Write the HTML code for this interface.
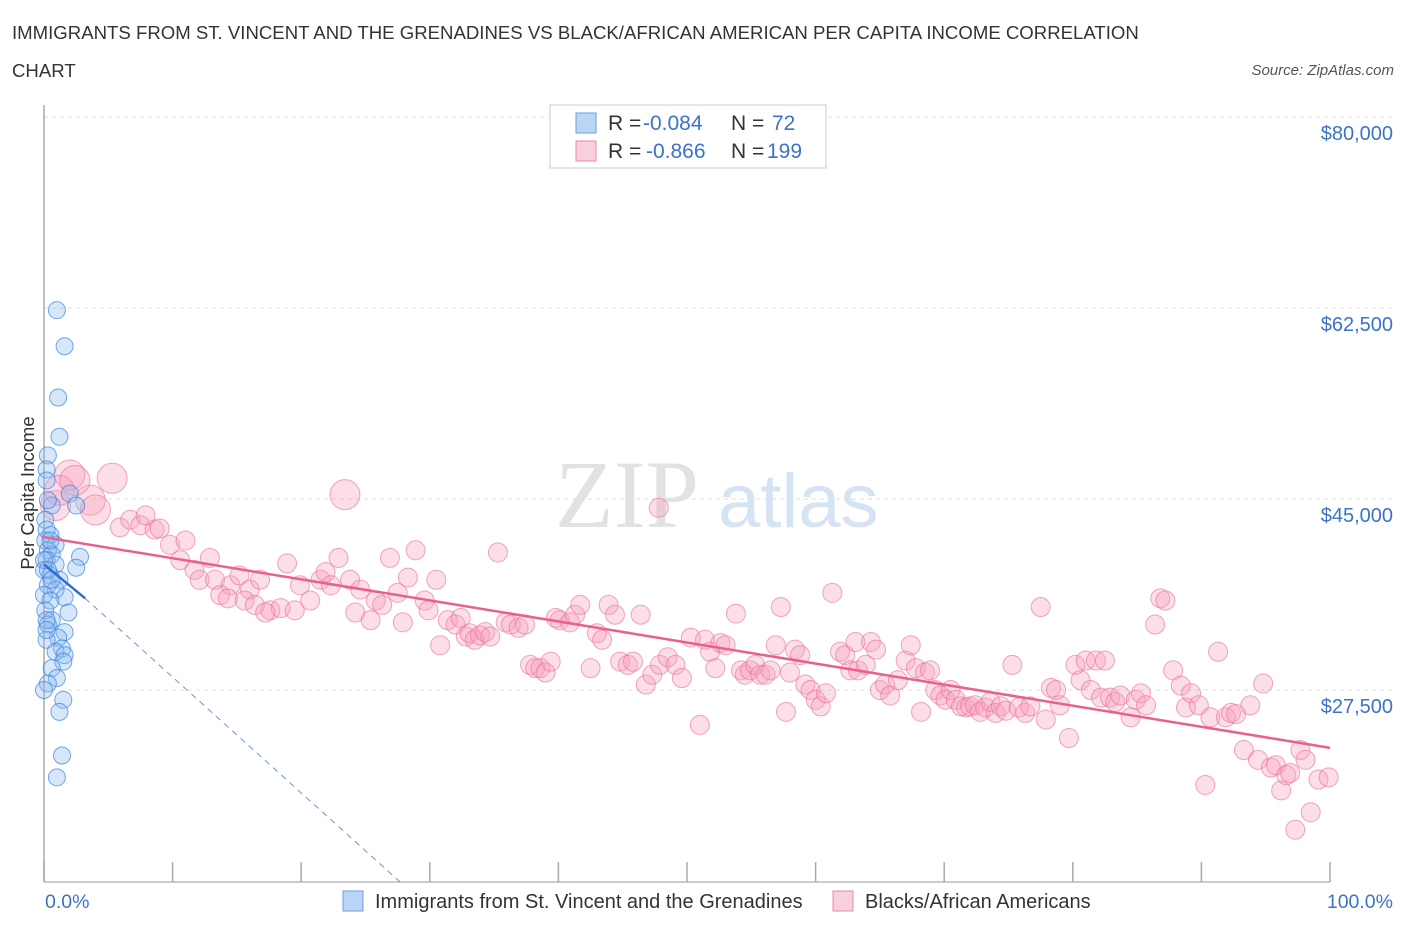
<!DOCTYPE html>
<html><head><meta charset="utf-8"><style>
body{margin:0;background:#fff;font-family:"Liberation Sans",sans-serif;}
#wrap{position:relative;width:1406px;height:930px;overflow:hidden;}
.t{position:absolute;white-space:nowrap;}
</style></head><body>
<div id="wrap">
<div class="t" style="left:12px;top:22px;font-size:18.6px;color:#333;">IMMIGRANTS FROM ST. VINCENT AND THE GRENADINES VS BLACK/AFRICAN AMERICAN PER CAPITA INCOME CORRELATION</div>
<div class="t" style="left:12px;top:60px;font-size:18.6px;color:#333;">CHART</div>
<div class="t" style="right:12px;top:62px;font-size:15px;color:#555;font-style:italic;">Source: ZipAtlas.com</div>
<svg id="svg" width="1406" height="930" style="position:absolute;left:0;top:0"></svg>
</div>
<script>
const yTicks=[27500,45000,62500,80000];
const yTickLabels=["$27,500","$45,000","$62,500","$80,000"];
const xTickLabels=["0.0%","100.0%"];
const blueX=[1.0,1.6,1.1,1.2,0.3,0.2,0.2,0.6,0.3,2.0,2.5,0.5,0.1,0.9,0.3,0.6,0.2,0.9,2.8,2.5,0,0.5,1.2,0.3,0.9,0,1.6,0.5,0.1,1.9,0.6,0.3,1.6,1.1,0.2,1.4,0.9,1.6,1.5,0.6,1.0,0.3,0,1.5,1.2,1.4,1.0,0.1,0.2,0.5,0,0.3,0.6,0.2,0.2];
const blueY=[62.3,59.0,54.3,50.7,49.0,47.7,46.7,44.4,44.9,45.5,44.4,41.7,41.2,40.8,40.3,39.9,39.4,39.0,39.7,38.7,38.5,38.0,37.6,37.1,36.7,36.2,36.0,35.7,34.8,34.6,33.9,33.5,32.8,32.3,32.1,31.3,31.0,30.7,30.1,29.5,28.6,28.1,27.5,26.6,25.5,21.5,19.5,43.1,42.2,41.2,39.4,38.5,37.6,33.9,33.0];
const pinkX=[0.9,2.0,3.6,5.3,1.2,2.4,4.0,5.9,6.7,7.5,8.6,9.0,7.9,23.4,47.8,9.8,11.0,10.6,11.7,12.9,12.1,13.3,14.5,15.2,16.0,16.8,13.7,14.3,15.6,16.4,17.6,18.4,17.2,19.5,20.7,18.9,19.9,21.5,21.9,22.3,22.9,23.8,24.6,24.2,25.4,25.8,26.3,26.9,27.5,27.9,28.3,28.9,29.6,29.9,30.5,31.4,30.8,32.0,32.4,32.8,33.1,33.5,33.9,34.3,34.7,35.3,35.9,36.3,36.9,37.4,37.8,38.2,38.6,39.0,39.4,39.8,40.1,40.9,41.3,41.7,42.5,43.0,43.4,43.9,44.4,44.8,45.4,45.8,46.4,46.8,47.3,47.9,48.5,49.1,49.6,50.3,51.0,51.4,51.8,52.2,52.6,53.0,53.8,54.2,54.5,54.9,55.3,55.7,56.1,56.5,56.9,57.3,57.7,58.0,58.4,58.8,59.2,59.6,60.0,60.4,60.8,61.3,61.9,62.3,62.7,63.1,63.3,63.9,64.3,64.7,65.0,65.4,65.8,66.4,67.0,67.4,67.8,68.2,68.5,68.9,69.3,69.7,70.1,70.5,70.9,71.3,71.7,72.0,72.4,72.8,73.2,73.6,74.0,74.4,74.8,75.3,75.8,76.3,76.7,77.5,77.9,78.3,78.7,79.0,79.7,80.2,80.6,81.0,81.4,81.8,82.2,82.5,82.9,83.3,83.7,84.5,84.9,85.3,85.7,86.4,86.8,87.2,87.8,88.4,88.8,89.2,89.8,90.3,90.7,91.3,91.9,92.3,92.7,93.3,93.8,94.4,94.8,95.4,95.8,96.2,96.6,96.9,97.3,97.7,98.1,98.5,99.1,99.9];
const pinkY=[44.4,47.2,44.9,46.9,45.8,46.7,44.0,42.4,43.1,42.6,42.2,42.3,43.5,45.4,44.2,40.8,41.2,39.4,38.5,39.6,37.6,37.6,37.1,38.0,36.7,37.6,36.2,35.9,35.7,35.3,34.8,35.0,34.6,34.8,35.7,39.1,37.1,37.6,38.3,37.1,39.6,37.6,36.7,34.6,33.9,35.7,35.3,39.6,36.4,33.7,37.8,40.3,35.7,34.8,37.6,33.9,31.6,33.5,34.1,32.4,32.7,32.1,32.5,32.8,32.4,40.1,33.7,33.5,33.2,33.5,29.8,29.5,29.5,29.1,30.1,34.1,33.9,33.7,34.4,35.3,29.5,32.7,32.1,35.3,34.4,30.1,29.8,30.1,34.4,28.0,28.9,29.8,30.5,29.8,28.6,32.3,24.3,32.1,31.0,29.5,31.8,31.6,34.5,29.3,28.9,29.3,29.8,28.9,28.9,29.3,31.6,35.1,25.5,29.1,31.2,30.7,28.0,27.5,26.6,26.0,27.2,36.4,31.0,30.7,29.3,31.9,29.3,29.8,31.9,31.2,27.5,28.0,27.0,28.4,30.2,31.6,29.5,25.5,29.1,29.3,27.5,27.0,26.6,27.5,26.6,26.0,25.9,26.0,26.1,25.5,25.9,26.4,25.4,26.0,25.6,29.8,25.9,25.4,26.0,35.1,24.8,27.7,27.5,26.1,23.1,29.8,28.4,30.2,27.5,30.2,26.8,30.2,26.8,26.4,27.0,25.0,26.6,27.2,26.1,33.5,35.9,35.7,29.3,27.9,25.9,27.2,26.1,18.8,25.0,31.0,25.0,25.4,25.3,22.0,26.1,21.1,28.1,20.4,20.6,18.3,19.7,19.9,14.7,22.0,21.1,16.3,19.3,19.5];
const pinkBig=[0,1,2,3,4,5,6,13];
const pinkTrend=[[0,41.5],[100,22.2]];
const blueTrendSolid=[[0,39.0],[3.2,35.9]];
const blueTrendDash=[[3.2,35.9],[27.7,9.9]];

const X0=44,X1=1330,YB=690,PXK=191/17500;
function sx(p){return X0+(X1-X0)*p/100;}
function sy(v){return YB-(v-27500)*PXK;}
const svg=document.getElementById('svg');
const NS='http://www.w3.org/2000/svg';
function mk(tag,attrs,parent){const e=document.createElementNS(NS,tag);for(const k in attrs)e.setAttribute(k,attrs[k]);(parent||svg).appendChild(e);return e;}

yTicks.forEach((v,i)=>{
  const g=mk('line',{x1:X0,x2:1392,y1:sy(v),y2:sy(v),stroke:'#dcdcdc','stroke-dasharray':'4,4'});
  
  
  const t=mk('text',{x:1393,y:sy(v)+23,'text-anchor':'end','font-size':20,fill:'#3b73c9','font-family':'Liberation Sans, sans-serif'});
  t.textContent=yTickLabels[i];
  
  
});
const wm=mk('text',{x:555,y:527,'font-size':96,fill:'#e2e2e2','font-family':'Liberation Serif, serif'});wm.textContent='ZIP';


const wm2=mk('text',{x:718,y:527,'font-size':76,fill:'#d6e3f3','font-family':'Liberation Sans, sans-serif'});wm2.textContent='atlas';


const ax=mk('line',{x1:X0,x2:X0,y1:105,y2:882,stroke:'#aaa','stroke-width':1.5});


const bx=mk('line',{x1:X0,x2:X1,y1:882,y2:882,stroke:'#bbb','stroke-width':1.5});


for(let i=0;i<=10;i++){
  const tk=mk('line',{x1:sx(i*10),x2:sx(i*10),y1:862,y2:882,stroke:'#aaa','stroke-width':1.5});
  
  
}
pinkX.forEach((x,i)=>{
  const big=pinkBig.includes(i);
  const c=mk('circle',{cx:sx(x),cy:sy(pinkY[i]*1000),r:big?15:9.5,fill:'rgba(245,160,185,0.35)',stroke:'rgba(232,110,150,0.6)','stroke-width':1});
  
  
});
blueX.forEach((x,i)=>{
  const c=mk('circle',{cx:sx(x),cy:sy(blueY[i]*1000),r:8.5,fill:'rgba(140,185,240,0.35)',stroke:'rgba(60,130,220,0.7)','stroke-width':1});
  
  
});
const pl=mk('line',{x1:sx(pinkTrend[0][0]),y1:sy(pinkTrend[0][1]*1000),x2:sx(pinkTrend[1][0]),y2:sy(pinkTrend[1][1]*1000),stroke:'#e8608c','stroke-width':2.5});


const bl=mk('line',{x1:sx(blueTrendSolid[0][0]),y1:sy(blueTrendSolid[0][1]*1000),x2:sx(blueTrendSolid[1][0]),y2:sy(blueTrendSolid[1][1]*1000),stroke:'#2f6fd0','stroke-width':2.5});


const bd=mk('line',{x1:sx(blueTrendDash[0][0]),y1:sy(blueTrendDash[0][1]*1000),x2:sx(blueTrendDash[1][0]),y2:sy(blueTrendDash[1][1]*1000),stroke:'#6a95d8','stroke-width':1,'stroke-dasharray':'6,5'});


const xl0=mk('text',{x:45,y:908,'font-size':19.5,fill:'#3b73c9','font-family':'Liberation Sans, sans-serif'});xl0.textContent=xTickLabels[0];


const xl1=mk('text',{x:1393,y:908,'text-anchor':'end','font-size':19.5,fill:'#3b73c9','font-family':'Liberation Sans, sans-serif'});xl1.textContent=xTickLabels[1];


const yt=mk('text',{x:0,y:0,transform:'translate(34,493) rotate(-90)','text-anchor':'middle','font-size':18.5,fill:'#333','font-family':'Liberation Sans, sans-serif'});yt.textContent='Per Capita Income';


const lg=mk('rect',{x:550,y:105,width:276,height:63,fill:'#fff',stroke:'#ccc'});


[['rgba(140,185,240,0.6)','#6a9ee0','-0.084',' 72',123,643],['rgba(245,160,185,0.5)','#e88aa8','-0.866','199',151,646]].forEach(r=>{
  const s=mk('rect',{x:576,y:r[4]-10,width:20,height:20,fill:r[0],stroke:r[1]});
  
  
  const t=mk('text',{x:608,y:r[4]+7,'font-size':21,fill:'#333','font-family':'Liberation Sans, sans-serif'});
  t.innerHTML='R = <tspan x="'+r[5]+'" fill="#3b73c9">'+r[2]+'</tspan><tspan x="731">N = </tspan><tspan x="'+(r[3]==' 72'?772:767)+'" fill="#3b73c9">'+r[3]+'</tspan>';
  
  
});
[[343,'rgba(140,185,240,0.6)','#6a9ee0','Immigrants from St. Vincent and the Grenadines'],[833,'rgba(245,160,185,0.5)','#e88aa8','Blacks/African Americans']].forEach(r=>{
  const s=mk('rect',{x:r[0],y:891,width:20,height:20,fill:r[1],stroke:r[2]});
  
  
  const t=mk('text',{x:r[0]+32,y:908,'font-size':20,fill:'#333','font-family':'Liberation Sans, sans-serif'});t.textContent=r[3];
  
  
});
</script>
</body></html>
